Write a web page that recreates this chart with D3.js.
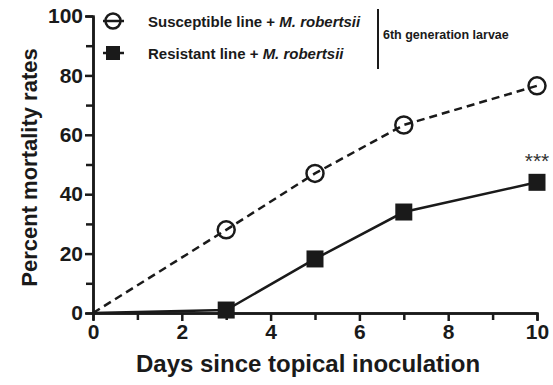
<!DOCTYPE html>
<html>
<head>
<meta charset="utf-8">
<script src="https://cdn.jsdelivr.net/npm/d3@7"></script>
<style>
  body { margin: 0; background: #fff; }
  text { font-family: "Liberation Sans", Arial, sans-serif; fill: #1a1a1a; }
</style>
</head>
<body>
<div id="chart"></div>
<script>
// values
var days = [0, 3, 5, 7, 10];
var susceptible = [0, 28, 47, 63.3, 76.5];
var resistant = [0, 1, 18.2, 34, 44];
var xTicks = [0, 2, 4, 6, 8, 10];
var xMinor = [1, 3, 5, 7, 9];
var yTicks = [0, 20, 40, 60, 80, 100];
var yMinor = [10, 30, 50, 70, 90];

var margin = { top: 16, right: 16, bottom: 72, left: 93 };
var width = 553 - margin.left - margin.right;
var height = 385 - margin.top - margin.bottom;

var svg = d3.select("#chart").append("svg")
    .attr("width", 553)
    .attr("height", 385)
    .append("g")
    .attr("transform", "translate(" + margin.left + "," + margin.top + ")");

var x = d3.scaleLinear().domain([0, 10]).range([0, width]);
var y = d3.scaleLinear().domain([0, 100]).range([height, 0]);

function styleAxis(g) {
    g.attr("font-family", null).attr("font-size", null);
    g.selectAll("path, line")
        .style("stroke", "#1a1a1a")
        .style("stroke-width", "2.5px")
        .style("fill", "none");
    g.selectAll("text")
        .style("font-size", "21px")
        .style("font-weight", "bold");
}

// minor ticks
svg.append("g")
    .attr("transform", "translate(0," + height + ")")
    .call(d3.axisBottom(x).tickValues(xMinor).tickSize(7).tickFormat(function () { return ""; }))
    .call(styleAxis);

svg.append("g")
    .call(d3.axisLeft(y).tickValues(yMinor).tickSize(7).tickFormat(function () { return ""; }))
    .call(styleAxis);

// main axes
svg.append("g")
    .attr("transform", "translate(0," + height + ")")
    .call(d3.axisBottom(x).tickValues(xTicks).tickSize(8).tickSizeOuter(0).tickPadding(3))
    .call(styleAxis);

svg.append("g")
    .call(d3.axisLeft(y).tickValues(yTicks).tickSize(8).tickSizeOuter(0).tickPadding(2))
    .call(styleAxis);

// axis titles
svg.append("text")
    .attr("x", width / 2 - 7)
    .attr("y", height + 59)
    .attr("text-anchor", "middle")
    .style("font-size", "24px")
    .style("font-weight", "bold")
    .text("Days since topical inoculation");

svg.append("text")
    .attr("transform", "translate(-56," + (height / 2 + 3) + ") rotate(-90)")
    .attr("text-anchor", "middle")
    .style("font-size", "22px")
    .style("font-weight", "bold")
    .text("Percent mortality rates");

// lines
var line = d3.line()
    .x(function (d) { return x(d[0]); })
    .y(function (d) { return y(d[1]); });

var suscData = days.map(function (d, i) { return [d, susceptible[i]]; });
var resData = days.map(function (d, i) { return [d, resistant[i]]; });

svg.append("path")
    .datum(suscData)
    .attr("d", line)
    .attr("fill", "none")
    .attr("stroke", "#1a1a1a")
    .attr("stroke-width", 2.5)
    .attr("stroke-dasharray", "8,5");

svg.append("path")
    .datum(resData)
    .attr("d", line)
    .attr("fill", "none")
    .attr("stroke", "#1a1a1a")
    .attr("stroke-width", 2.5);

// markers (no marker at the origin)
svg.selectAll(".circ")
    .data(suscData.slice(1))
    .enter().append("circle")
    .attr("cx", function (d) { return x(d[0]); })
    .attr("cy", function (d) { return y(d[1]); })
    .attr("r", 8.5)
    .attr("fill", "none")
    .attr("stroke", "#1a1a1a")
    .attr("stroke-width", 2.5);

var sq = 17;
svg.selectAll(".sq")
    .data(resData.slice(1))
    .enter().append("rect")
    .attr("x", function (d) { return x(d[0]) - sq / 2; })
    .attr("y", function (d) { return y(d[1]) - sq / 2; })
    .attr("width", sq)
    .attr("height", sq)
    .attr("fill", "#1a1a1a");

// significance
svg.append("text")
    .attr("x", x(10))
    .attr("y", y(44) - 14)
    .attr("text-anchor", "middle")
    .style("font-size", "21px")
    .style("fill", "#333")
    .text("***");

// legend (page coordinates)
var legend = svg.append("g").attr("transform", "translate(" + (-margin.left) + "," + (-margin.top) + ")");

legend.append("line")
    .attr("x1", 103).attr("x2", 124).attr("y1", 21).attr("y2", 21)
    .attr("stroke", "#1a1a1a").attr("stroke-width", 2.5);
legend.append("circle")
    .attr("cx", 113).attr("cy", 21).attr("r", 7.5)
    .attr("fill", "none").attr("stroke", "#1a1a1a").attr("stroke-width", 2.5);

legend.append("line")
    .attr("x1", 103).attr("x2", 124).attr("y1", 53).attr("y2", 53)
    .attr("stroke", "#1a1a1a").attr("stroke-width", 2.5);
legend.append("rect")
    .attr("x", 106).attr("y", 46).attr("width", 14).attr("height", 14)
    .attr("fill", "#1a1a1a");

var t1 = legend.append("text").attr("x", 148).attr("y", 27)
    .style("font-size", "15px").style("font-weight", "bold");
t1.append("tspan").text("Susceptible line + ");
t1.append("tspan").style("font-style", "italic").text("M. robertsii");

var t2 = legend.append("text").attr("x", 148).attr("y", 59)
    .style("font-size", "15px").style("font-weight", "bold");
t2.append("tspan").text("Resistant line + ");
t2.append("tspan").style("font-style", "italic").text("M. robertsii");

legend.append("line")
    .attr("x1", 378).attr("x2", 378).attr("y1", 9).attr("y2", 69)
    .attr("stroke", "#1a1a1a").attr("stroke-width", 2);

legend.append("text")
    .attr("x", 383).attr("y", 39)
    .style("font-size", "12.5px").style("font-weight", "bold")
    .text("6th generation larvae");
</script>
</body>
</html>
